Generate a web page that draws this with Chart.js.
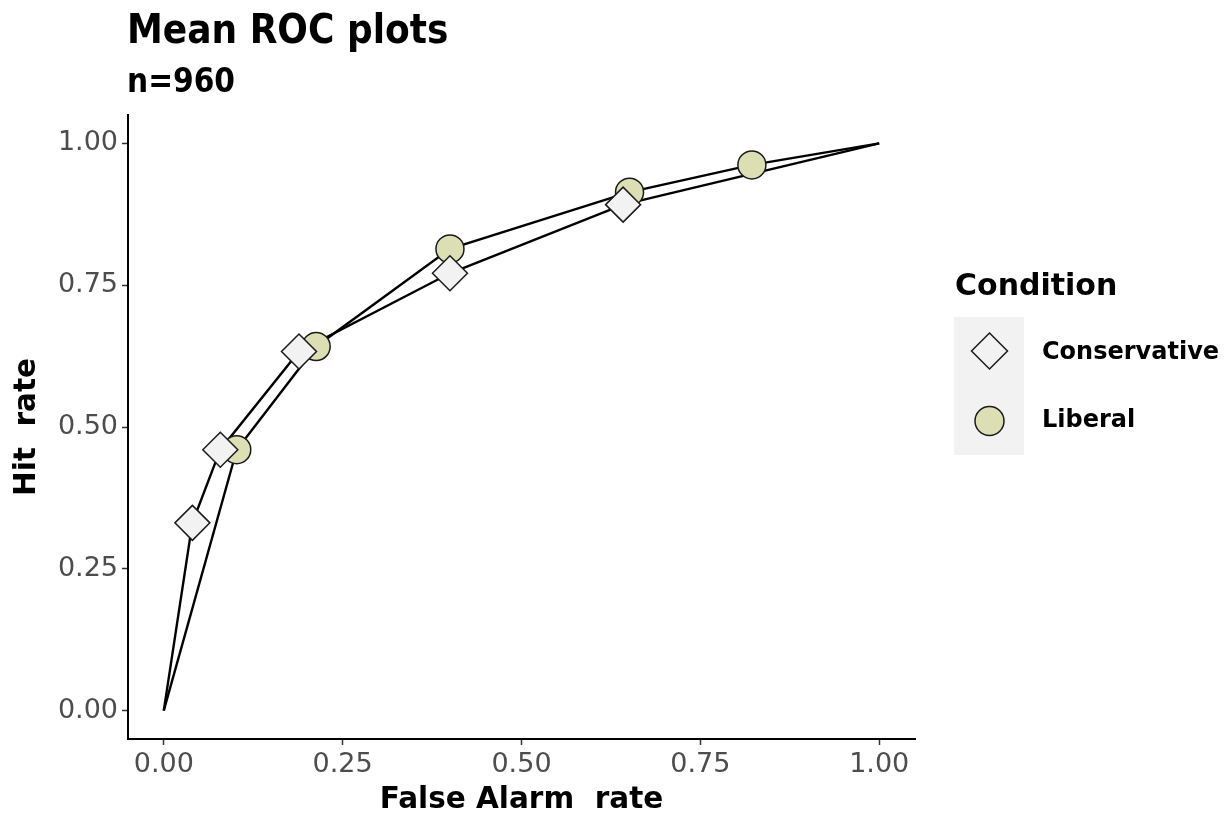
<!DOCTYPE html>
<html>
<head>
<meta charset="utf-8">
<script src="https://cdn.jsdelivr.net/npm/chart.js@4.4.1/dist/chart.umd.min.js"></script>
<style>
  body { margin: 0; background: #fff; }
  #wrap { width: 1232px; height: 816px; }
</style>
</head>
<body>
<div id="wrap"><canvas id="roc" width="1232" height="816"></canvas></div>
<script>
(function () {
  "use strict";

  // Data
  const consFA  = [0, 0.040, 0.079, 0.189, 0.400, 0.642, 1];
  const consHit = [0, 0.331, 0.460, 0.633, 0.771, 0.892, 1];
  const libFA   = [0, 0.102, 0.213, 0.400, 0.651, 0.822, 1];
  const libHit  = [0, 0.460, 0.642, 0.814, 0.914, 0.962, 1];
  const tickVals = [0, 0.25, 0.5, 0.75, 1];
  const seriesNames = ['Conservative', 'Liberal'];

  // Colors
  const c_diamond = '#f2f2f2';
  const c_circle  = '#dcdfb4';
  const c_edge    = '#1a1a1a';
  const c_tick    = '#4d4d4d';
  const FONT      = "'DejaVu Sans', sans-serif";
  const FONT_C    = "'DejaVu Sans Condensed', 'DejaVu Sans', sans-serif";

  function toPoints(xs, ys) {
    return xs.map(function (x, i) { return { x: x, y: ys[i] }; });
  }

  // Title / subtitle drawn from the left edge of the plot panel
  const titlePlugin = {
    id: 'ggTitle',
    afterDraw: function (chart) {
      const ctx = chart.ctx;
      const left = chart.chartArea.left - 1;
      ctx.save();
      ctx.fillStyle = '#000';
      ctx.textAlign = 'left';
      ctx.textBaseline = 'alphabetic';
      ctx.font = 'bold 40px ' + FONT_C;
      ctx.fillText('Mean ROC plots', left, 43);
      ctx.font = 'bold 33px ' + FONT_C;
      ctx.fillText('n=960', left, 92);
      ctx.restore();
    }
  };

  // Legend on the right, ggplot style
  const legendPlugin = {
    id: 'ggLegend',
    afterDraw: function (chart) {
      const ctx = chart.ctx;
      const x0 = chart.chartArea.right + 40;
      ctx.save();
      ctx.fillStyle = '#000';
      ctx.font = 'bold 30px ' + FONT;
      ctx.textBaseline = 'alphabetic';
      ctx.fillText('Condition', x0, 295);

      ctx.fillStyle = '#f2f2f2';
      ctx.fillRect(x0 - 1, 317, 70, 138);

      const kx = x0 + 34.5;
      // diamond key
      ctx.beginPath();
      ctx.moveTo(kx, 333);
      ctx.lineTo(kx + 18, 351);
      ctx.lineTo(kx, 369);
      ctx.lineTo(kx - 18, 351);
      ctx.closePath();
      ctx.fillStyle = c_diamond;
      ctx.fill();
      ctx.lineWidth = 1.5;
      ctx.strokeStyle = c_edge;
      ctx.stroke();
      // circle key
      ctx.beginPath();
      ctx.arc(kx, 421, 14.5, 0, Math.PI * 2);
      ctx.fillStyle = c_circle;
      ctx.fill();
      ctx.stroke();

      ctx.fillStyle = '#000';
      ctx.font = 'bold 24px ' + FONT;
      ctx.textBaseline = 'middle';
      ctx.fillText(seriesNames[0], x0 + 87, 353);
      ctx.fillText(seriesNames[1], x0 + 87, 421);
      ctx.restore();
    }
  };

  const axisCommon = {
    type: 'linear',
    min: -0.05,
    max: 1.05,
    afterBuildTicks: function (scale) {
      scale.ticks = tickVals.map(function (v) { return { value: v }; });
    },
    grid: {
      drawOnChartArea: false,
      drawTicks: true,
      tickLength: 6,
      tickColor: '#333',
      tickWidth: 1.5
    },
    border: { display: true, color: '#000', width: 2 },
    ticks: {
      color: c_tick,
      font: { family: FONT, size: 27 },
      padding: 4,
      callback: function (v) { return Number(v).toFixed(2); }
    }
  };

  const ctx = document.getElementById('roc').getContext('2d');
  new Chart(ctx, {
    type: 'scatter',
    data: {
      datasets: [
        {
          label: seriesNames[0] + ' points',
          data: toPoints(consFA.slice(1, -1), consHit.slice(1, -1)),
          showLine: false,
          pointStyle: 'rectRot',
          pointRadius: 17.5,
          pointBackgroundColor: c_diamond,
          pointBorderColor: c_edge,
          pointBorderWidth: 1.5,
          order: 0
        },
        {
          label: seriesNames[1] + ' points',
          data: toPoints(libFA.slice(1, -1), libHit.slice(1, -1)),
          showLine: false,
          pointStyle: 'circle',
          pointRadius: 14,
          pointBackgroundColor: c_circle,
          pointBorderColor: c_edge,
          pointBorderWidth: 1.5,
          order: 1
        },
        {
          label: seriesNames[0],
          data: toPoints(consFA, consHit),
          showLine: true,
          borderColor: '#000',
          borderWidth: 2.4,
          pointRadius: 0,
          tension: 0,
          order: 2
        },
        {
          label: seriesNames[1],
          data: toPoints(libFA, libHit),
          showLine: true,
          borderColor: '#000',
          borderWidth: 2.4,
          pointRadius: 0,
          tension: 0,
          order: 3
        }
      ]
    },
    options: {
      responsive: false,
      animation: false,
      layout: {
        padding: { top: 115, right: 317, bottom: 0, left: 0 }
      },
      scales: {
        x: Object.assign({}, axisCommon, {
          position: 'bottom',
          afterFit: function (scale) { scale.height = 77; },
          title: {
            display: true,
            text: 'False Alarm  rate',
            color: '#000',
            font: { family: FONT, size: 29.5, weight: 'bold' },
            padding: { top: 0, bottom: -2 }
          }
        }),
        y: Object.assign({}, axisCommon, {
          position: 'left',
          afterFit: function (scale) { scale.width = 128; },
          title: {
            display: true,
            text: 'Hit  rate',
            color: '#000',
            font: { family: FONT, size: 29.5, weight: 'bold' },
            padding: { top: 10, bottom: 0 }
          }
        })
      },
      plugins: {
        legend: { display: false },
        tooltip: { enabled: false }
      }
    },
    plugins: [titlePlugin, legendPlugin]
  });
})();
</script>
</body>
</html>
